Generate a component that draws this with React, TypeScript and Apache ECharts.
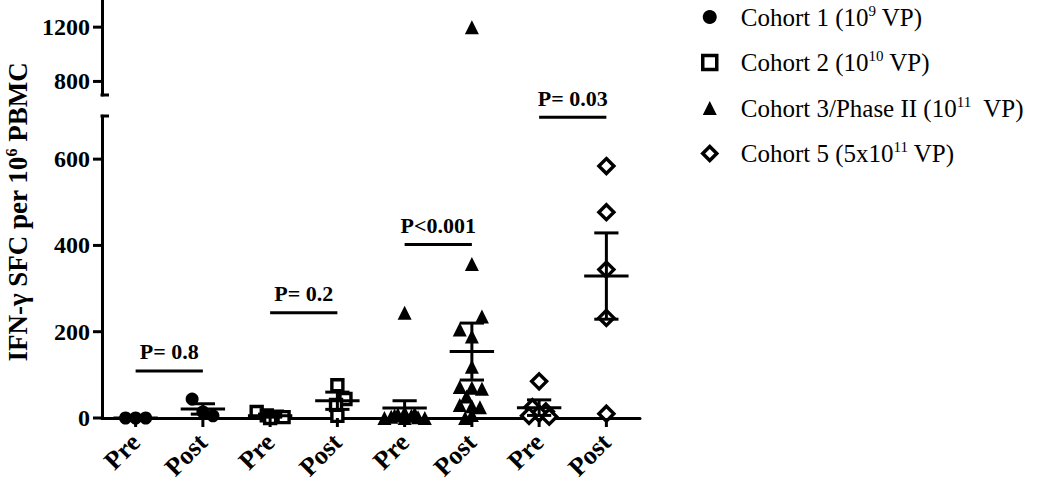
import React, { useEffect, useRef } from 'react';
import * as echarts from 'echarts';

const categories = ['Pre', 'Post', 'Pre', 'Post', 'Pre', 'Post', 'Pre', 'Post'];

const seriesNames = ['Cohort 1', 'Cohort 2', 'Cohort 3/Phase II', 'Cohort 5'];
const legendLabels = [
  '{g|}Cohort 1 (10{s|9} VP)',
  '{g|}Cohort 2 (10{s|10} VP)',
  '{g|}Cohort 3/Phase II (10{s|11}  VP)',
  '{g|}Cohort 5 (5x10{s|11} VP)',
];
const seriesSymbols = ['circle', 'rect', 'triangle', 'diamond'];
const seriesOpen = [false, true, false, true];

// values (SFC per 10^6 PBMC) and horizontal spread (in category units)
const cohort1Pre = [0, 0, 0];
const cohort1PreSpread = [-0.15, 0, 0.15];
const cohort1Post = [44, 14, 5];
const cohort1PostSpread = [-0.16, 0, 0.15];

const cohort2Pre = [14, 6, 3, 0, 2];
const cohort2PreSpread = [-0.2, -0.05, 0.1, 0, 0.2];
const cohort2Post = [76, 44, 30, 5];
const cohort2PostSpread = [0, 0.12, -0.02, 0];

const cohort3Pre = [244, 12, 8, 5, 3, 0, 0, 0, 2, 6, 10];
const cohort3PreSpread = [0, 0, -0.1, 0.1, -0.2, -0.3, 0, 0.3, 0.2, -0.15, 0.15];
const cohort3Post = [1200, 357, 235, 205, 189, 119, 72, 70, 68, 50, 30, 27, 25, 7, 0];
const cohort3PostSpread = [0, 0, 0.15, -0.18, 0, 0, -0.18, 0, 0.15, -0.08, -0.18, 0, 0.12, 0, -0.1];

const cohort5Pre = [85, 25, 15, 10, 5, 3];
const cohort5PreSpread = [0, -0.1, 0.1, 0, -0.15, 0.15];
const cohort5Post = [584, 477, 344, 232, 10];
const cohort5PostSpread = [0, 0, 0, 0, 0];

// mean and SEM bounds per group (Pre/Post x 4 cohorts)
const groupMean = [0, 21, 5, 40, 23, 154, 24, 329];
const semLow = [0, 9, 2, 20, 6, 88, 6, 229];
const semHigh = [0, 33, 9, 60, 40, 220, 42, 429];

// comparison brackets
const pLabels = ['P= 0.8', 'P= 0.2', 'P<0.001', 'P= 0.03'];
const pHeights = [109, 244, 402, 697];

const lowerTicks = [0, 200, 400, 600];
const upperTicks = [800, 1200];
const breakLow = 700;
const breakHigh = 1400;

const FONT = "'Times New Roman', 'Liberation Serif', serif";

const cohortData = [
  [cohort1Pre, cohort1PreSpread, cohort1Post, cohort1PostSpread],
  [cohort2Pre, cohort2PreSpread, cohort2Post, cohort2PostSpread],
  [cohort3Pre, cohort3PreSpread, cohort3Post, cohort3PostSpread],
  [cohort5Pre, cohort5PreSpread, cohort5Post, cohort5PostSpread],
];

function buildPoints(ci: number, upper: boolean) {
  const [pre, preS, post, postS] = cohortData[ci];
  const out: number[][] = [];
  const add = (vals: number[], spr: number[], g: number) => {
    vals.forEach((v, i) => {
      if (upper ? v > breakLow : v <= breakLow) out.push([g + spr[i], v]);
    });
  };
  add(pre, preS, ci * 2);
  add(post, postS, ci * 2 + 1);
  return out;
}

export default function App() {
  const ref = useRef<HTMLDivElement>(null);
  useEffect(() => {
    document.body.style.margin = '0';
    const chart = echarts.init(ref.current!, null, { renderer: 'svg' });

    const symbolSizes = [13, 11, 14, 15];
    const legendIconStyles = seriesOpen.map((open) =>
      open ? { color: '#fff', borderColor: '#000', borderWidth: 3.5, opacity: 1 } : { color: '#000', borderWidth: 0, opacity: 1 }
    );
    const scatterSeries: any[] = [];
    [false, true].forEach((upper) => {
      seriesNames.forEach((name, ci) => {
        scatterSeries.push({
          name,
          type: 'scatter',
          xAxisIndex: upper ? 2 : 1,
          yAxisIndex: upper ? 1 : 0,
          symbol: seriesSymbols[ci],
          symbolSize: symbolSizes[ci],
          itemStyle: seriesOpen[ci]
            ? { color: '#fff', borderColor: '#000', borderWidth: 3.4, opacity: 1 }
            : { color: '#000', opacity: 1 },
          data: buildPoints(ci, upper),
          z: 3,
        });
      });
    });

    const errData = groupMean.map((m, i) => [i, m, semLow[i], semHigh[i]]);
    const bracketData = pHeights.map((h, i) => [i * 2, i * 2 + 1, h]);
    const stroke = { stroke: '#000', lineWidth: 3 };

    const capSeries = (xi: number, yi: number) => ({
      type: 'custom',
      xAxisIndex: xi,
      yAxisIndex: yi,
      clip: false,
      silent: true,
      data: [[-0.5, breakLow]],
      renderItem: (params: any, api: any) => {
        const p = api.coord([api.value(0), api.value(1)]);
        const x0 = params.coordSys.x;
        return { type: 'line', shape: { x1: x0 - 1.5, y1: p[1], x2: x0 + 7, y2: p[1] }, style: stroke };
      },
      z: 4,
    });

    const yTickSeries = (xi: number, yi: number, ticks: number[]) => ({
      type: 'custom',
      xAxisIndex: xi,
      yAxisIndex: yi,
      clip: false,
      silent: true,
      data: ticks.map((t) => [-0.5, t]),
      renderItem: (params: any, api: any) => {
        const p = api.coord([api.value(0), api.value(1)]);
        const x0 = params.coordSys.x;
        return { type: 'line', shape: { x1: x0 - 9, y1: p[1], x2: x0, y2: p[1] }, style: stroke };
      },
      z: 4,
    });

    const xTickSeries = {
      type: 'custom',
      xAxisIndex: 1,
      yAxisIndex: 0,
      clip: false,
      silent: true,
      data: categories.map((_, i) => [i, 0]),
      renderItem: (params: any, api: any) => {
        const p = api.coord([api.value(0), api.value(1)]);
        return { type: 'line', shape: { x1: p[0], y1: p[1], x2: p[0], y2: p[1] + 9 }, style: stroke };
      },
      z: 4,
    };

    const yLabel = {
      margin: 12,
      color: '#000',
      fontFamily: FONT,
      fontWeight: 'bold',
      fontSize: 24,
      formatter: (v: number) => String(v),
    };
    const tickStyle = { color: '#000', width: 3 };

    const option: any = {
      animation: false,
      backgroundColor: '#fff',
      grid: [
        { left: 102, top: 116, width: 538, height: 302 },
        { left: 102, top: 0, width: 538, height: 95 },
      ],
      xAxis: [
        {
          type: 'category',
          gridIndex: 0,
          data: categories,
          axisLine: { show: true, onZero: false, lineStyle: { color: '#000', width: 3 } },
          axisTick: { show: false },
          axisLabel: {
            rotate: 45,
            margin: 20,
            interval: 0,
            color: '#000',
            fontFamily: FONT,
            fontWeight: 'bold',
            fontSize: 26,
          },
          splitLine: { show: false },
        },
        { type: 'value', gridIndex: 0, min: -0.5, max: 7.5, show: false, axisLine: { onZero: false } },
        { type: 'value', gridIndex: 1, min: -0.5, max: 7.5, show: false, axisLine: { onZero: false } },
      ],
      yAxis: [
        {
          type: 'value',
          gridIndex: 0,
          min: 0,
          max: breakLow,
          axisLine: { show: true, onZero: false, lineStyle: { color: '#000', width: 3 } },
          axisTick: { show: false },
          axisLabel: { ...yLabel, customValues: lowerTicks },
          splitLine: { show: false },
        },
        {
          type: 'value',
          gridIndex: 1,
          min: breakLow,
          max: breakHigh,
          axisLine: { show: true, onZero: false, lineStyle: { color: '#000', width: 3 } },
          axisTick: { show: false },
          axisLabel: { ...yLabel, customValues: upperTicks },
          splitLine: { show: false },
        },
      ],
      legend: {
        orient: 'vertical',
        left: 696,
        top: -2,
        itemWidth: 14,
        itemHeight: 14,
        itemGap: 17.5,
        selectedMode: false,
        data: seriesNames.map((name, i) => ({ name, itemStyle: legendIconStyles[i] })),
        formatter: (name: string) => legendLabels[seriesNames.indexOf(name)],
        textStyle: {
          fontFamily: FONT,
          fontSize: 25,
          color: '#000',
          lineHeight: 28,
          rich: {
            g: { width: 19 },
            s: { fontFamily: FONT, fontSize: 15, color: '#000', verticalAlign: 'top', lineHeight: 15 },
          },
        },
      },
      graphic: [
        {
          type: 'text',
          x: 18,
          y: 212,
          rotation: Math.PI / 2,
          style: {
            text: 'IFN-γ SFC per 10{s|6} PBMC',
            fontFamily: FONT,
            fontWeight: 'bold',
            fontSize: 27,
            fill: '#000',
            align: 'center',
            verticalAlign: 'middle',
            lineHeight: 30,
            rich: {
              s: { fontFamily: FONT, fontWeight: 'bold', fontSize: 16, fill: '#000', verticalAlign: 'top', lineHeight: 16 },
            },
          },
        },
      ],
      series: [
        ...scatterSeries,
        {
          type: 'custom',
          xAxisIndex: 1,
          yAxisIndex: 0,
          clip: false,
          silent: true,
          data: errData,
          z: 4,
          renderItem: (params: any, api: any) => {
            const x = api.value(0);
            const pm = api.coord([x, api.value(1)]);
            const pl = api.coord([x, api.value(2)]);
            const ph = api.coord([x, api.value(3)]);
            const band = api.size([1, 0])[0];
            const mw = band * 0.33;
            const cw = band * 0.18;
            return {
              type: 'group',
              children: [
                { type: 'line', shape: { x1: pm[0] - mw, y1: pm[1], x2: pm[0] + mw, y2: pm[1] }, style: stroke },
                { type: 'line', shape: { x1: pl[0], y1: pl[1], x2: ph[0], y2: ph[1] }, style: stroke },
                { type: 'line', shape: { x1: ph[0] - cw, y1: ph[1], x2: ph[0] + cw, y2: ph[1] }, style: stroke },
                { type: 'line', shape: { x1: pl[0] - cw, y1: pl[1], x2: pl[0] + cw, y2: pl[1] }, style: stroke },
              ],
            };
          },
        },
        {
          type: 'custom',
          xAxisIndex: 1,
          yAxisIndex: 0,
          clip: false,
          silent: true,
          data: bracketData,
          z: 4,
          renderItem: (params: any, api: any) => {
            const a = api.coord([api.value(0), api.value(2)]);
            const b = api.coord([api.value(1), api.value(2)]);
            return {
              type: 'group',
              children: [
                { type: 'line', shape: { x1: a[0], y1: a[1], x2: b[0], y2: b[1] }, style: stroke },
                {
                  type: 'text',
                  x: (a[0] + b[0]) / 2,
                  y: a[1] - 8,
                  style: {
                    text: pLabels[params.dataIndex],
                    fontFamily: FONT,
                    fontWeight: 'bold',
                    fontSize: 22,
                    fill: '#000',
                    align: 'center',
                    verticalAlign: 'bottom',
                  },
                },
              ],
            };
          },
        },
        capSeries(1, 0),
        capSeries(2, 1),
        yTickSeries(1, 0, lowerTicks),
        yTickSeries(2, 1, upperTicks),
        xTickSeries,
      ],
    };
    chart.setOption(option);
    return () => chart.dispose();
  }, []);
  return <div ref={ref} style={{ width: 1050, height: 484 }} />;
}
